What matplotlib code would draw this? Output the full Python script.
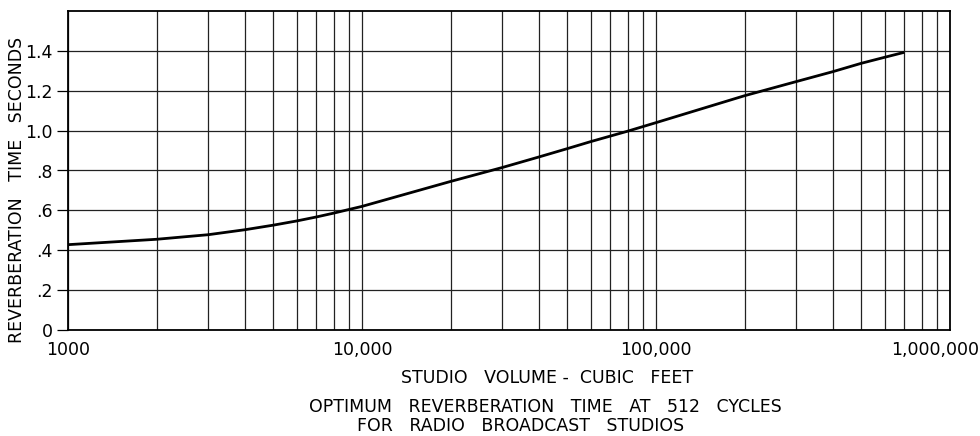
import matplotlib
matplotlib.use("Agg")
import matplotlib.pyplot as plt
import matplotlib.transforms as mtransforms
from matplotlib.ticker import FixedLocator, FixedFormatter, NullFormatter

# curve (studio volume in cubic feet, reverberation time in s)
volume = [1000, 2000, 3000, 4000, 5000, 6000, 7000, 8000, 9000, 10000,
          20000, 30000, 40000, 50000, 60000, 80000, 100000,
          200000, 300000, 400000, 500000, 600000, 700000]
rev_time = [0.428, 0.455, 0.478, 0.503, 0.526, 0.547, 0.567, 0.586, 0.604, 0.62,
            0.745, 0.815, 0.868, 0.91, 0.945, 0.997, 1.04,
            1.175, 1.246, 1.296, 1.338, 1.368, 1.393]

x_ticks = [1000, 10000, 100000, 1000000]
x_labels = ["1000", "10,000", "100,000", "1,000,000"]
y_ticks = [0, 0.2, 0.4, 0.6, 0.8, 1.0, 1.2, 1.4]
y_labels = ["0", ".2", ".4", ".6", ".8", "1.0", "1.2", "1.4"]

plt.rcParams["font.family"] = ["DejaVu Sans"]
FS = 12.5

fig = plt.figure(figsize=(9.8, 4.36), dpi=100)
ax = fig.add_axes([68 / 980, 1 - 330 / 436, (950 - 68) / 980, (330 - 11) / 436])

ax.plot(volume, rev_time, color="black", lw=2.0, solid_joinstyle="round",
        solid_capstyle="butt", zorder=3)

ax.set_xscale("log")
ax.set_xlim(1000, 1000000)
ax.set_ylim(0, 1.6)

minor = [m * 10 ** e for e in range(3, 6) for m in range(2, 10)]
ax.xaxis.set_major_locator(FixedLocator(x_ticks))
ax.xaxis.set_major_formatter(FixedFormatter(x_labels))
ax.xaxis.set_minor_locator(FixedLocator(minor))
ax.xaxis.set_minor_formatter(NullFormatter())
ax.yaxis.set_major_locator(FixedLocator(y_ticks))
ax.yaxis.set_major_formatter(FixedFormatter(y_labels))

ax.grid(True, which="both", axis="x", color="#222222", lw=0.9)
ax.grid(True, which="major", axis="y", color="#222222", lw=0.9)
ax.tick_params(axis="x", which="both", length=0, pad=8, labelsize=FS)
ax.tick_params(axis="y", length=8, width=0.9, pad=3, labelsize=FS)
for s in ax.spines.values():
    s.set_linewidth(1.3)

# the last x label sits a little inside the right edge
last = ax.get_xticklabels()[-1]
last.set_transform(last.get_transform() +
                   mtransforms.ScaledTranslation(-15 / 100, 0, fig.dpi_scale_trans))

ax.set_ylabel("REVERBERATION   TIME   SECONDS", fontsize=FS)
ax.yaxis.set_label_coords(-0.048, 0.44)

fig.text(547 / 980, 1 - 378 / 436, "STUDIO   VOLUME -  CUBIC   FEET",
         ha="center", va="center", fontsize=FS)
fig.text(545 / 980, 1 - 407 / 436, "OPTIMUM   REVERBERATION   TIME   AT   512   CYCLES",
         ha="center", va="center", fontsize=FS)
fig.text(521 / 980, 1 - 426 / 436, "FOR   RADIO   BROADCAST   STUDIOS",
         ha="center", va="center", fontsize=FS)

fig.savefig("out.png", dpi=100)
